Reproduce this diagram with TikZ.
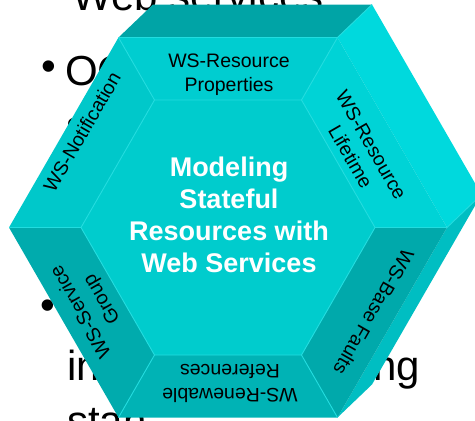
\documentclass[tikz,border=0pt]{standalone}
\usepackage{fontspec}
\setmainfont{Liberation Sans}
\usetikzlibrary{calc}
\definecolor{topface}{HTML}{00A4A6}
\definecolor{rightup}{HTML}{00D9DD}
\definecolor{rightlow}{HTML}{00BEC2}
\definecolor{centerface}{HTML}{00CCCD}
\definecolor{bevtop}{HTML}{00CDD0}
\definecolor{bevul}{HTML}{00C8CA}
\definecolor{bevur}{HTML}{00D3D6}
\definecolor{bevll}{HTML}{00ABAD}
\definecolor{bevb}{HTML}{00B3B5}
\definecolor{bevlr}{HTML}{00A9AB}
\definecolor{hexline}{HTML}{22DCDF}
\begin{document}
\begin{tikzpicture}[x=1pt,y=-1pt,
  bgtext/.style={font=\fontsize{42}{50}\selectfont, text=black, inner sep=0pt, anchor=base west},
  bulletmark/.style={font=\fontsize{42}{50}\selectfont, text=black, inner sep=0pt, anchor=center},
  lbl/.style={font=\fontsize{19.5}{24}\selectfont, text=black, align=center, inner sep=0pt},
  ttl/.style={font=\fontsize{27}{32}\selectfont\bfseries, text=white, align=center, inner sep=0pt},
  hexedge/.style={draw=hexline, line width=0.9pt, line join=round}]
\useasboundingbox (0,0) rectangle (475,421);
\clip (0,0) rectangle (475,421);
% background slide text
\node[bgtext] (t1) at (72,10) {Web services};
\node[bulletmark] (b1) at (48.5,71) {•};
\node[bgtext] (t2) at (65,85) {OG};
\node[bgtext] (t3) at (66,140) {s};
\node[bulletmark] (b2) at (47.5,310) {•};
\node[bgtext] (t4) at (67,380) {in};
\node[bgtext] (t5) at (373,380) {ng};
\node[bgtext] (t6) at (67,435) {stan};
% hexagon geometry
\coordinate (L)  at (9,227.5);
\coordinate (TL) at (118.5,37.5);
\coordinate (TR) at (337.5,37.5);
\coordinate (R)  at (447,227.5);
\coordinate (BR) at (337.5,417.5);
\coordinate (BL) at (118.5,417.5);
\coordinate (l)  at (81,227.5);
\coordinate (tl) at (154.5,100);
\coordinate (tr) at (301.5,100);
\coordinate (r)  at (375,227.5);
\coordinate (br) at (301.5,355);
\coordinate (bl) at (154.5,355);
\coordinate (TLb) at ($(TL)+(34.5,-33)$);
\coordinate (TRb) at ($(TR)+(34.5,-33)$);
\coordinate (Rb)  at ($(R)+(34.5,-33)$);
\coordinate (BRb) at ($(BR)+(34.5,-33)$);
% side faces
\fill[topface] (TL) -- (TR) -- (TRb) -- (TLb) -- cycle;
\fill[rightup] (TR) -- (R) -- (Rb) -- (TRb) -- cycle;
\fill[rightlow] (R) -- (BR) -- (BRb) -- (Rb) -- cycle;
% bevels
\fill[bevtop] (TL) -- (TR) -- (tr) -- (tl) -- cycle;
\fill[bevur] (TR) -- (R) -- (r) -- (tr) -- cycle;
\fill[bevlr] (R) -- (BR) -- (br) -- (r) -- cycle;
\fill[bevb] (BR) -- (BL) -- (bl) -- (br) -- cycle;
\fill[bevll] (BL) -- (L) -- (l) -- (bl) -- cycle;
\fill[bevul] (L) -- (TL) -- (tl) -- (l) -- cycle;
\fill[centerface] (l) -- (tl) -- (tr) -- (r) -- (br) -- (bl) -- cycle;
% highlight lines
\draw[hexedge] (l) -- (tl) -- (tr) -- (r) -- (br) -- (bl) -- cycle;
\draw[hexedge] (L) -- (l) (TL) -- (tl) (TR) -- (tr) (R) -- (r) (BR) -- (br) (BL) -- (bl);
\draw[hexedge] (TR) -- (TRb) (R) -- (Rb) (TL) -- (TR);
% labels
\node[lbl] (rp) at (229,75) {WS-Resource\\Properties};
\node[lbl, rotate=60] (wn) at (82,132) {WS-Notification};
\node[lbl, rotate=-60] (rl) at (361,151) {WS-Resource\\Lifetime};
\node[lbl, rotate=120] (sg) at (92,305) {WS-Service\\Group};
\node[lbl, rotate=180] (rr) at (230,383) {WS-Renewable\\References};
\node[lbl, rotate=-120] (bf) at (374,312) {WS-Base Faults};
\node[ttl] (ct) at (229,215) {Modeling\\Stateful\\Resources with\\Web Services};
\end{tikzpicture}
\end{document}
